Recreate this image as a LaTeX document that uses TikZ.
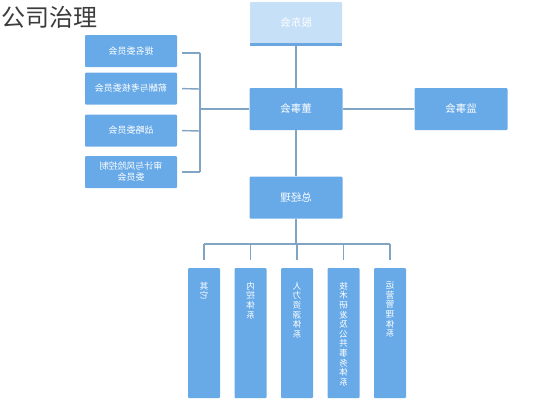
\documentclass[tikz,border=0pt]{standalone}
\usepackage{fontspec}
\setmainfont{Noto Sans CJK SC}
\usepackage{graphicx}
\definecolor{boxblue}{RGB}{104,170,232}
\definecolor{lightblue}{RGB}{198,224,248}
\definecolor{stripblue}{RGB}{108,166,224}
\definecolor{linec}{RGB}{128,164,196}
\definecolor{titlec}{RGB}{60,60,60}
\tikzset{
  bx/.style={fill=boxblue, draw=none, text=white, inner sep=0pt, rounded corners=1pt},
  cbox/.style={bx, minimum width=93pt, minimum height=42pt, font=\fontsize{10.5}{12}\selectfont},
  lbox/.style={bx, minimum width=92pt, minimum height=32pt, align=center, font=\fontsize{9}{11}\selectfont},
  vbox/.style={bx, minimum width=32pt, minimum height=130pt},
  vtxt/.style={anchor=north, text=white, inner sep=0pt, align=center, font=\fontsize{8.6}{9.6}\selectfont},
  conn/.style={draw=linec, line width=1.4pt},
}
\begin{document}
\begin{tikzpicture}[x=1pt,y=-1pt]
\useasboundingbox (0,0) rectangle (558,400);
\node[anchor=north west, inner sep=0pt, text=titlec, font=\fontsize{24}{26}\selectfont] (title) at (1,6) {公司治理};

% center column
\node[cbox, fill=lightblue, minimum width=92pt, minimum height=41pt] (gd) at (296,22.5) {\reflectbox{股东会}};
\fill[stripblue] (gd.south west) rectangle ([yshift=-3pt]gd.south east);
\node[cbox] (dsh) at (296,109) {\reflectbox{董事会}};
\node[cbox] (jsh) at (461,109) {\reflectbox{监事会}};
\node[cbox] (zjl) at (296,197.5) {\reflectbox{总经理}};

% left column
\node[lbox] (l1) at (131,51) {\reflectbox{提名委员会}};
\node[lbox] (l2) at (131,88.5) {\reflectbox{薪酬与考核委员会}};
\node[lbox] (l3) at (131,130.5) {\reflectbox{战略委员会}};
\node[lbox] (l4) at (131,172) {\reflectbox{审计与风险控制}\\\reflectbox{委员会}};

\coordinate (s1) at (200,53);
\coordinate (s2) at (200,89);
\coordinate (s3) at (200,131);
\coordinate (s4) at (200,172);
\coordinate (sm) at (200,109);
\draw[conn, shorten <=5pt] ([yshift=-2pt]l1.east) -- (s1);
\draw[conn, shorten <=5pt] (l2.east) -- (s2);
\draw[conn, shorten <=5pt] (l3.east) -- (s3);
\draw[conn, shorten <=5pt] (l4.east) -- (s4);
\draw[conn] (s1) -- (s4);
\draw[conn] (sm) -- (dsh.west);

\draw[conn] ([yshift=-3pt]gd.south) -- (dsh.north);
\draw[conn] (dsh.east) -- (jsh.west);
\draw[conn] (dsh.south) -- (zjl.north);

% bottom
\node[vbox] (b1) at (204,333) {};
\node[vbox] (b2) at (250.5,333) {};
\node[vbox] (b3) at (297,333) {};
\node[vbox] (b4) at (343.5,333) {};
\node[vbox] (b5) at (390,333) {};
\node[vtxt] (t1) at ([yshift=-14pt]b1.north) {\reflectbox{其}\\\reflectbox{它}};
\node[vtxt] (t2) at ([yshift=-14pt]b2.north) {\reflectbox{内}\\\reflectbox{控}\\\reflectbox{体}\\\reflectbox{系}};
\node[vtxt] (t3) at ([yshift=-14pt]b3.north) {\reflectbox{人}\\\reflectbox{力}\\\reflectbox{资}\\\reflectbox{源}\\\reflectbox{体}\\\reflectbox{系}};
\node[vtxt] (t4) at ([yshift=-14pt]b4.north) {\reflectbox{技}\\\reflectbox{术}\\\reflectbox{研}\\\reflectbox{发}\\\reflectbox{及}\\\reflectbox{公}\\\reflectbox{共}\\\reflectbox{事}\\\reflectbox{务}\\\reflectbox{体}\\\reflectbox{系}};
\node[vtxt] (t5) at ([yshift=-14pt]b5.north) {\reflectbox{运}\\\reflectbox{营}\\\reflectbox{管}\\\reflectbox{理}\\\reflectbox{体}\\\reflectbox{系}};

\coordinate (bar) at (296,244);
\coordinate (bl) at (204,244);
\coordinate (br) at (390,244);
\draw[conn] (zjl.south) -- (bar);
\draw[conn] (bl) -- (br);
\foreach \b in {b1,b2,b3,b4,b5}
  \draw[conn, shorten >=8pt] (\b.north |- bar) -- (\b.north);
\end{tikzpicture}
\end{document}
